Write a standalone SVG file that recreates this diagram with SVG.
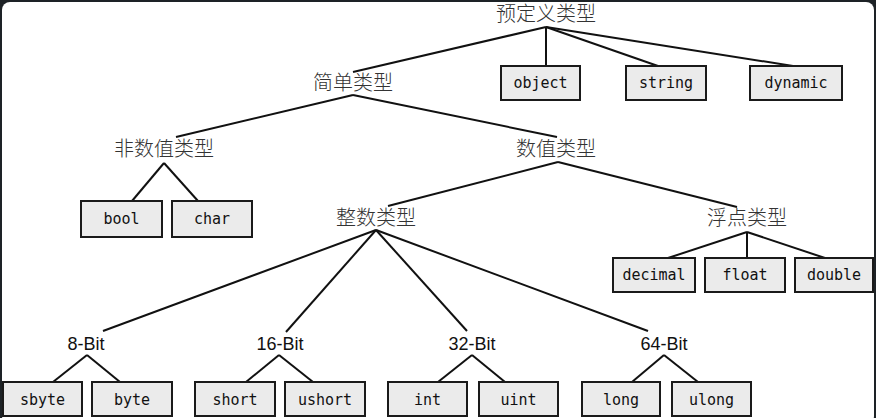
<svg xmlns="http://www.w3.org/2000/svg" width="876" height="418" viewBox="0 0 876 418">
<style>
.cat{font-family:"Noto Sans CJK SC","Noto Sans",sans-serif;font-size:20px;fill:#333;text-anchor:middle;font-weight:300}
.bit{font-family:"Liberation Sans",Arial,sans-serif;font-size:18px;fill:#111;text-anchor:middle}
.box rect{fill:#ebebeb;stroke:#1a1a1a;stroke-width:2}
.box text{font-family:"DejaVu Sans Mono",monospace;font-size:15px;fill:#111;text-anchor:middle}
.edges line{stroke:#111;stroke-width:2;fill:none}
</style>
<rect x="0" y="0" width="876" height="418" fill="#1d2226"/>
<rect x="2" y="2" width="872" height="422" rx="8" fill="#ffffff"/>
<g class="edges">
<line x1="546" y1="27" x2="353" y2="72"/>
<line x1="546" y1="27" x2="546" y2="66"/>
<line x1="546" y1="27" x2="658" y2="66"/>
<line x1="546" y1="27" x2="793" y2="66"/>
<line x1="353" y1="95" x2="176" y2="137"/>
<line x1="353" y1="95" x2="557" y2="137"/>
<line x1="164" y1="163" x2="132" y2="201"/>
<line x1="164" y1="163" x2="198" y2="201"/>
<line x1="558" y1="162" x2="388" y2="206"/>
<line x1="558" y1="162" x2="737" y2="207"/>
<line x1="747" y1="232" x2="668" y2="258"/>
<line x1="747" y1="232" x2="747" y2="258"/>
<line x1="747" y1="232" x2="825" y2="258"/>
<line x1="376" y1="230" x2="103" y2="331"/>
<line x1="376" y1="230" x2="286" y2="332"/>
<line x1="376" y1="230" x2="467" y2="331"/>
<line x1="376" y1="230" x2="648" y2="331"/>
<line x1="87" y1="355" x2="53" y2="382"/>
<line x1="87" y1="355" x2="120" y2="382"/>
<line x1="279" y1="355" x2="246" y2="382"/>
<line x1="279" y1="355" x2="313" y2="382"/>
<line x1="472" y1="355" x2="438" y2="382"/>
<line x1="472" y1="355" x2="505" y2="382"/>
<line x1="664" y1="355" x2="632" y2="382"/>
<line x1="664" y1="355" x2="698" y2="382"/>
</g>
<g id="predef"><text class="cat" x="546" y="21">预定义类型</text></g>
<g id="simple"><text class="cat" x="353" y="90">简单类型</text></g>
<g id="nonnum"><text class="cat" x="164" y="156">非数值类型</text></g>
<g id="num"><text class="cat" x="556" y="156">数值类型</text></g>
<g id="integer"><text class="cat" x="376" y="225">整数类型</text></g>
<g id="float-cat"><text class="cat" x="747" y="225">浮点类型</text></g>
<g id="b8"><text class="bit" x="86" y="350">8-Bit</text></g>
<g id="b16"><text class="bit" x="280" y="350">16-Bit</text></g>
<g id="b32"><text class="bit" x="472" y="350">32-Bit</text></g>
<g id="b64"><text class="bit" x="664" y="350">64-Bit</text></g>
<g id="object" class="box"><rect x="501" y="66" width="79" height="34"/><text x="540.5" y="88">object</text></g>
<g id="string" class="box"><rect x="626" y="66" width="80" height="34"/><text x="666" y="88">string</text></g>
<g id="dynamic" class="box"><rect x="750" y="66" width="92" height="34"/><text x="796" y="88">dynamic</text></g>
<g id="bool" class="box"><rect x="81" y="201" width="81" height="36"/><text x="121.5" y="224">bool</text></g>
<g id="char" class="box"><rect x="172" y="201" width="80" height="36"/><text x="212" y="224">char</text></g>
<g id="decimal" class="box"><rect x="613" y="258" width="82" height="34"/><text x="654" y="280">decimal</text></g>
<g id="float" class="box"><rect x="705" y="258" width="80" height="34"/><text x="745" y="280">float</text></g>
<g id="double" class="box"><rect x="795" y="258" width="78" height="34"/><text x="834" y="280">double</text></g>
<g id="sbyte" class="box"><rect x="3" y="382" width="79" height="34"/><text x="42.5" y="405">sbyte</text></g>
<g id="byte" class="box"><rect x="92" y="382" width="80" height="34"/><text x="132" y="405">byte</text></g>
<g id="short" class="box"><rect x="195" y="382" width="80" height="34"/><text x="235" y="405">short</text></g>
<g id="ushort" class="box"><rect x="285" y="382" width="80" height="34"/><text x="325" y="405">ushort</text></g>
<g id="int" class="box"><rect x="388" y="382" width="79" height="34"/><text x="427.5" y="405">int</text></g>
<g id="uint" class="box"><rect x="479" y="382" width="79" height="34"/><text x="518.5" y="405">uint</text></g>
<g id="long" class="box"><rect x="582" y="382" width="78" height="34"/><text x="621" y="405">long</text></g>
<g id="ulong" class="box"><rect x="672" y="382" width="79" height="34"/><text x="711.5" y="405">ulong</text></g>
</svg>
